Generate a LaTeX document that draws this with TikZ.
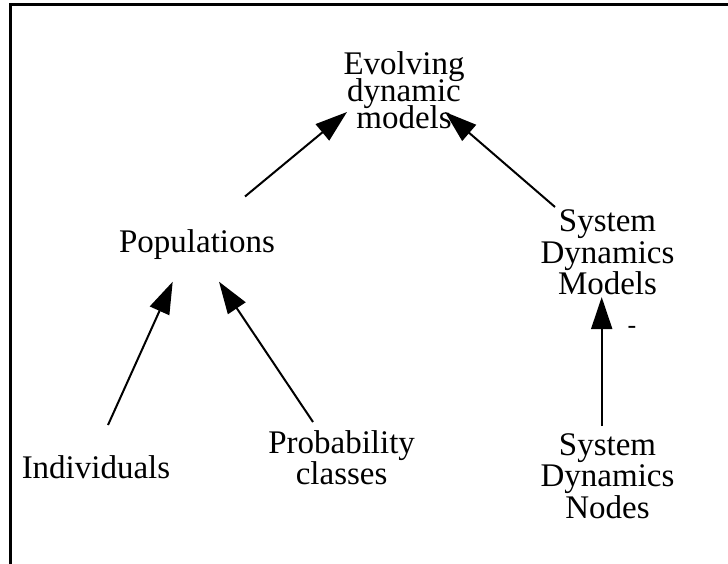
\documentclass[tikz,border=0pt]{standalone}
\usepackage{fontspec}
\setmainfont{Liberation Serif}
\usetikzlibrary{arrows.meta}
\newcommand\lblfont[1]{\fontsize{33}{#1}\selectfont\lineskiplimit=-100pt\relax\lineskip=0pt\relax}
\begin{document}
\begin{tikzpicture}[x=1pt,y=-1pt,
  lbl/.style={inner sep=0pt,align=center,font=\lblfont{31.5}},
  arr/.style={line width=2pt,-{Triangle[length=32pt,width=21pt]}},
  frame/.style={line width=3pt}]
\useasboundingbox (0,0) rectangle (728,564);
\draw[frame] (10,564) -- (10,5) -- (728,5);
\node[lbl,font=\lblfont{27}] (evo) at (404,90.7) {Evolving\\dynamic\\models};
\node[lbl] (pop) at (197,244.3) {Populations};
\node[lbl] (sdm) at (607.5,252.6) {System\\Dynamics\\Models};
\node[lbl] (ind) at (96,467.7) {Individuals};
\node[lbl] (prob) at (341.6,457.5) {Probability\\classes};
\node[lbl] (sdn) at (607.5,476) {System\\Dynamics\\Nodes};
\draw[arr] ([shift={(12,-42.7)}]ind.center) -- ([shift={(-24.3,37.4)}]pop.center);
\draw[arr] ([shift={(-28.6,-35.5)}]prob.center) -- ([shift={(22,37.4)}]pop.center);
\draw[arr] ([shift={(48,-47.8)}]pop.center) -- ([shift={(-57,21.3)}]evo.center);
\draw[arr] ([shift={(-52.5,-45.6)}]sdm.center) -- ([shift={(41,21.3)}]evo.center);
\draw[arr] (sdn.north -| 601.7,0) ++(0,-7) -- ([shift={(-5.8,1.7)}]sdm.south);
\node[lbl,font=\fontsize{26}{26}\selectfont] (minus) at (632,330) {-};
\end{tikzpicture}
\end{document}
